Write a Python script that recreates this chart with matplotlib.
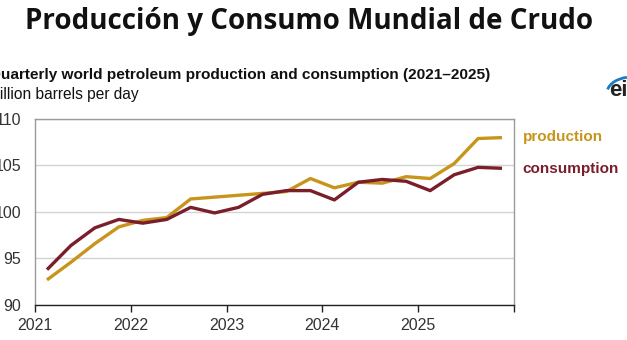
import matplotlib
matplotlib.use("Agg")
from matplotlib import pyplot as plt
from matplotlib.patches import Arc

# quarterly world petroleum, million barrels per day
quarters = [2021.125 + 0.25 * i for i in range(20)]
production = [92.7, 94.6, 96.6, 98.4, 99.1, 99.4, 101.4, 101.6, 101.8, 102.0,
              102.2, 103.6, 102.6, 103.2, 103.1, 103.8, 103.6, 105.2, 107.9, 108.0]
consumption = [93.8, 96.4, 98.3, 99.2, 98.8, 99.2, 100.5, 99.9, 100.5, 101.9,
               102.3, 102.3, 101.3, 103.2, 103.5, 103.3, 102.3, 104.0, 104.8, 104.7]
years = [2021, 2022, 2023, 2024, 2025]
y_ticks = [90, 95, 100, 105, 110]

gold = '#c8951c'
maroon = '#7a1e2b'
W, H = 627, 340

fig = plt.figure(figsize=(W / 100, H / 100), dpi=100)
ax = fig.add_axes([35 / W, 1 - 305 / H, (514 - 35) / W, (305 - 119) / H])

ax.plot(quarters, production, color=gold, lw=2.4, solid_capstyle='butt', zorder=3)
ax.plot(quarters, consumption, color=maroon, lw=2.4, solid_capstyle='butt', zorder=4)

ax.set_xlim(2021, 2026)
ax.set_ylim(90, 110)
ax.set_xticks(years + [2026])
ax.set_xticklabels([str(y) for y in years] + [''])
ax.set_yticks(y_ticks)
ax.set_yticklabels([str(v) for v in y_ticks])
ax.grid(axis='y', color='#d4d4d4', lw=1)
ax.set_axisbelow(True)
for s in ['top', 'left', 'right']:
    ax.spines[s].set_color('#9a9a9a')
    ax.spines[s].set_linewidth(1)
ax.spines['bottom'].set_color('#222222')
ax.spines['bottom'].set_linewidth(1)
ax.tick_params(axis='x', length=5, width=1, color='#222222', labelsize=11.5,
               labelcolor='#333333', pad=4)
ax.tick_params(axis='y', length=0, labelsize=11.5, labelcolor='#333333', pad=10)
for lbl in ax.get_xticklabels() + ax.get_yticklabels():
    lbl.set_family('Liberation Sans')

ax.text(1.018, production[-1] + 0.1, 'production', transform=ax.get_yaxis_transform(),
        color=gold, fontsize=11, fontweight='bold', family='Liberation Sans', va='center')
ax.text(1.018, consumption[-1] - 0.1, 'consumption', transform=ax.get_yaxis_transform(),
        color=maroon, fontsize=11, fontweight='bold', family='Liberation Sans', va='center')

fig.text(0.493, 1 - 22 / H, 'Producción y Consumo Mundial de Crudo', ha='center', va='center',
         fontsize=20, fontweight='bold', family='Open Sans', color='#111111')
fig.text(-11 / W, 1 - 75 / H, 'Quarterly world petroleum production and consumption (2021–2025)',
         ha='left', va='center', fontsize=11.1, fontweight='bold', family='Liberation Sans',
         color='#111111')
fig.text(-13 / W, 1 - 94 / H, 'Million barrels per day', ha='left', va='center', fontsize=11.2,
         family='Liberation Sans', color='#111111')

# eia logo, cut off at the right edge
fig.text(609 / W, 1 - 91 / H, 'eia', ha='left', va='center', fontsize=16, fontweight='bold',
         family='Liberation Sans', color='#222222')
fig.add_artist(Arc((632 / W, 1 - 93 / H), 50 / W, 32 / H, theta1=100, theta2=165,
                   transform=fig.transFigure, color='#1a7cc1', lw=2))

fig.savefig('out.png', dpi=100)
